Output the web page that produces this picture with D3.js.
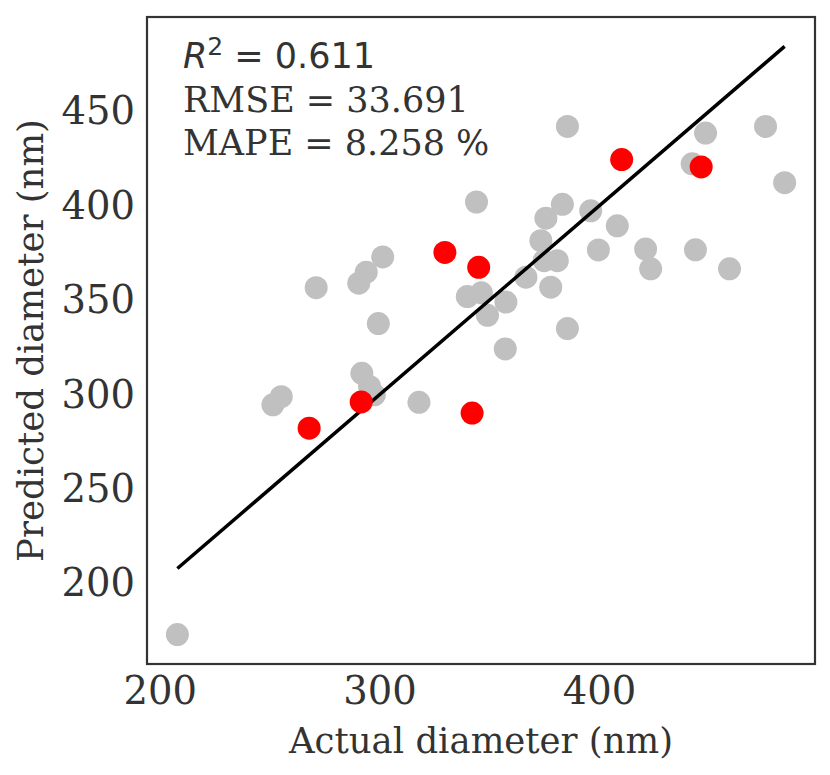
<!DOCTYPE html>
<html>
<head>
<meta charset="utf-8">
<script src="https://cdn.jsdelivr.net/npm/d3@7"></script>
<style>
  html, body { margin: 0; padding: 0; background: #fff; }
  svg { display: block; }
  text { font-family: "DejaVu Serif", serif; fill: #333; }
</style>
</head>
<body>
<div id="chart"></div>
<script>
// training / other samples (grey)
var grayActual = [208, 251.5, 255.3, 271.2, 290.6, 294, 301.5, 299.5, 292, 295.5,
    297.7, 318, 344.2, 340, 346.4, 349.2, 357.6, 357.3, 366.7, 378,
    375, 381, 373.5, 375.8, 383.3, 385.6, 385.6, 396.2, 399.7, 408.3,
    421.2, 423.5, 442.4, 443.9, 448.5, 459.4, 475.8, 484.5];
var grayPredicted = [173, 294.7, 299, 356.7, 359.1, 364.9, 373, 337.7, 311.4, 304.4,
    300, 296, 402.1, 352, 354, 342.1, 349.1, 324.3, 362.3, 357,
    371, 371, 381.6, 393.5, 400.9, 442.1, 335.1, 397.4, 376.7, 389.5,
    377.2, 366.7, 422.3, 376.8, 438.6, 366.7, 442.1, 412.3];

// highlighted samples (red)
var redActual = [268, 291.7, 329.8, 342.2, 345.2, 410.3, 446.5];
var redPredicted = [282.3, 296.2, 375.4, 290.3, 367.5, 424.6, 420.7];

var xTicks = [200, 300, 400];
var yTicks = [200, 250, 300, 350, 400, 450];
var statLines = ["RMSE = 33.691", "MAPE = 8.258 %"];

var width = 830, height = 775;
var margin = {left: 147, right: 15, top: 17, bottom: 111};

var svg = d3.select("#chart").append("svg")
    .attr("width", width)
    .attr("height", height);

var allX = grayActual.concat(redActual);
var allY = grayPredicted.concat(redPredicted);
var lineExt = d3.extent(allX);

// matplotlib style 5% padding
function pad(ext) {
    var d = (ext[1] - ext[0]) * 0.05;
    return [ext[0] - d, ext[1] + d];
}
var xDom = pad(d3.extent(allX));
var yDom = pad(d3.extent(allY.concat(lineExt)));

var x = d3.scaleLinear().domain(xDom).range([margin.left, width - margin.right]);
var y = d3.scaleLinear().domain(yDom).range([height - margin.bottom, margin.top]);

var xAxis = d3.axisBottom(x).tickValues(xTicks).tickSize(0).tickPadding(13);
var yAxis = d3.axisLeft(y).tickValues(yTicks).tickSize(0).tickPadding(12);

var gx = svg.append("g")
    .attr("transform", "translate(0," + (height - margin.bottom) + ")")
    .call(xAxis);
var gy = svg.append("g")
    .attr("transform", "translate(" + margin.left + ",0)")
    .call(yAxis);
[gx, gy].forEach(function(g) {
    g.select(".domain").remove();
    g.selectAll("text").style("font-size", "38.5px").attr("fill", "#333")
        .style("font-family", "DejaVu Serif");
});

// points
var gray = grayActual.map(function(d, i) { return {a: d, p: grayPredicted[i]}; });
var red = redActual.map(function(d, i) { return {a: d, p: redPredicted[i]}; });

svg.selectAll(".gray").data(gray).enter().append("circle")
    .attr("class", "gray")
    .attr("cx", d => x(d.a))
    .attr("cy", d => y(d.p))
    .attr("r", 11.5)
    .attr("fill", "#c0c0c0");

// identity line over actual range
svg.append("line")
    .attr("x1", x(lineExt[0])).attr("y1", y(lineExt[0]))
    .attr("x2", x(lineExt[1])).attr("y2", y(lineExt[1]))
    .attr("stroke", "#000")
    .attr("stroke-width", 3.5);

svg.selectAll(".red").data(red).enter().append("circle")
    .attr("class", "red")
    .attr("cx", d => x(d.a))
    .attr("cy", d => y(d.p))
    .attr("r", 11.5)
    .attr("fill", "#ff0000");

// frame
svg.append("rect")
    .attr("x", margin.left).attr("y", margin.top)
    .attr("width", width - margin.left - margin.right)
    .attr("height", height - margin.top - margin.bottom)
    .attr("fill", "none")
    .attr("stroke", "#333")
    .attr("stroke-width", 2.2);

// stats text
var r2 = svg.append("text")
    .attr("x", 183).attr("y", 68)
    .style("font-size", "35px")
    .style("font-family", "DejaVu Sans");
r2.append("tspan").text("R").style("font-style", "italic");
r2.append("tspan").text("2").attr("dy", -13).style("font-size", "25px");
r2.append("tspan").text(" = 0.611").attr("dy", 13);

svg.selectAll(".stat").data(statLines).enter().append("text")
    .attr("class", "stat")
    .attr("x", 183)
    .attr("y", (d, i) => 112 + i * 43)
    .style("font-size", "35px")
    .text(d => d);

// axis labels
svg.append("text")
    .attr("x", (margin.left + width - margin.right) / 2)
    .attr("y", 753)
    .attr("text-anchor", "middle")
    .style("font-size", "35.5px")
    .text("Actual diameter (nm)");

svg.append("text")
    .attr("transform", "translate(43," + ((margin.top + height - margin.bottom) / 2) + ") rotate(-90)")
    .attr("text-anchor", "middle")
    .style("font-size", "35.5px")
    .text("Predicted diameter (nm)");
</script>
</body>
</html>
